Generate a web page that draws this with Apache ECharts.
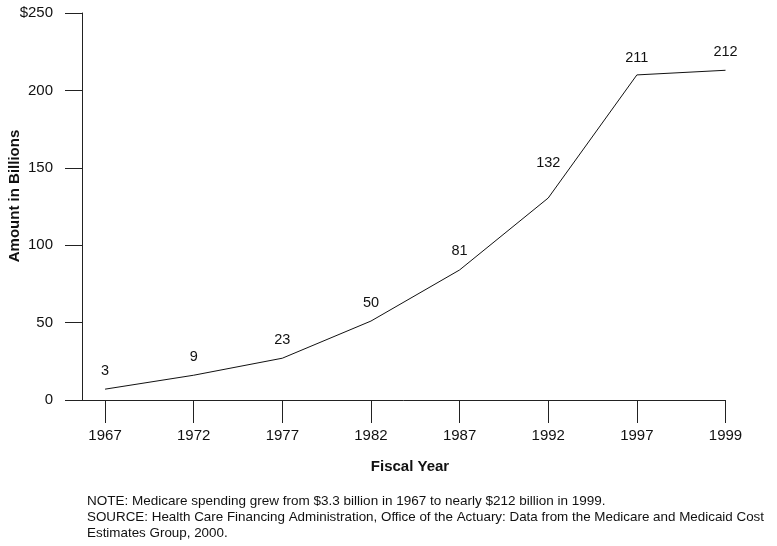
<!DOCTYPE html>
<html>
<head>
<meta charset="utf-8">
<script src="https://cdn.jsdelivr.net/npm/echarts@6/dist/echarts.min.js"></script>
<style>
html,body{margin:0;padding:0;background:#fff;}
#chart{width:777px;height:546px;}
</style>
</head>
<body>
<div id="chart"></div>
<script>
// Data
var years = ['1967', '1972', '1977', '1982', '1987', '1992', '1997', '1999'];
var lineValues = [7, 16, 27, 51, 84, 130.5, 210, 213];      // plotted line heights
var labelValues = ['3', '9', '23', '50', '81', '132', '211', '212']; // printed labels
var yTicks = [0, 50, 100, 150, 200, 250];

var FONT = '"Liberation Sans", Arial, Helvetica, sans-serif';

// label gap above each point (style only): the 1992 label sits higher in the reference
var labelGap = [10.5, 10.5, 10.5, 10.5, 10.5, 26.5, 8.5, 10.5];

var seriesData = lineValues.map(function (v, i) {
  return { value: [i, v], label: { show: true, position: 'top', distance: labelGap[i] } };
});
var tickIdx = years.map(function (y, i) { return i; });

var chart = echarts.init(document.getElementById('chart'), null, { renderer: 'canvas' });
chart.setOption({
  animation: false,
  backgroundColor: '#ffffff',
  grid: { left: 82, right: 51.5, top: 13, bottom: 146, containLabel: false },
  xAxis: {
    type: 'value',
    min: -0.26,
    max: 7,
    splitLine: { show: false },
    axisLine: { show: true, onZero: false, lineStyle: { color: '#222', width: 1 } },
    axisTick: { show: true, length: 23, inside: false, customValues: tickIdx, lineStyle: { color: '#222', width: 1 } },
    axisLabel: {
      customValues: tickIdx,
      margin: 28,
      fontSize: 15, color: '#111', fontFamily: FONT,
      formatter: function (v) { return years[Math.round(v)]; }
    }
  },
  yAxis: {
    type: 'value',
    min: 0, max: 250, interval: 50,
    splitLine: { show: false },
    axisLine: { show: true, onZero: false, lineStyle: { color: '#222', width: 1 } },
    axisTick: { show: true, length: 17, lineStyle: { color: '#222', width: 1 } },
    axisLabel: {
      margin: 29, fontSize: 15, color: '#111', fontFamily: FONT,
      formatter: function (v) { return v === 250 ? '$' + v : String(v); }
    }
  },
  series: [{
    type: 'line',
    data: seriesData,
    symbol: 'circle',
    symbolSize: 1,
    showSymbol: true,
    itemStyle: { color: 'rgba(0,0,0,0)' },
    lineStyle: { color: '#111', width: 1 },
    label: {
      show: true, position: 'top', distance: 10.5,
      fontSize: 14.5, color: '#111', fontFamily: FONT,
      formatter: function (p) { return labelValues[p.dataIndex]; }
    },
    labelLayout: { hideOverlap: false }
  }],
  graphic: [
    { type: 'text', x: 410, y: 466.7, style: { text: 'Fiscal Year', font: 'bold 15px ' + FONT, fill: '#111', textAlign: 'center', textVerticalAlign: 'middle' } },
    { type: 'text', x: 15, y: 196, rotation: Math.PI / 2, style: { text: 'Amount in Billions', font: 'bold 15px ' + FONT, fill: '#111', textAlign: 'center', textVerticalAlign: 'middle' } },
    { type: 'text', x: 87, y: 501.3, style: { text: 'NOTE: Medicare spending grew from $3.3 billion in 1967 to nearly $212 billion in 1999.', font: '13.5px ' + FONT, fill: '#111', textAlign: 'left', textVerticalAlign: 'middle' } },
    { type: 'text', x: 87, y: 517.3, style: { text: 'SOURCE: Health Care Financing Administration, Office of the Actuary: Data from the Medicare and Medicaid Cost', font: '13.4px ' + FONT, fill: '#111', textAlign: 'left', textVerticalAlign: 'middle' } },
    { type: 'text', x: 87, y: 533.3, style: { text: 'Estimates Group, 2000.', font: '13.4px ' + FONT, fill: '#111', textAlign: 'left', textVerticalAlign: 'middle' } }
  ]
});
</script>
</body>
</html>
